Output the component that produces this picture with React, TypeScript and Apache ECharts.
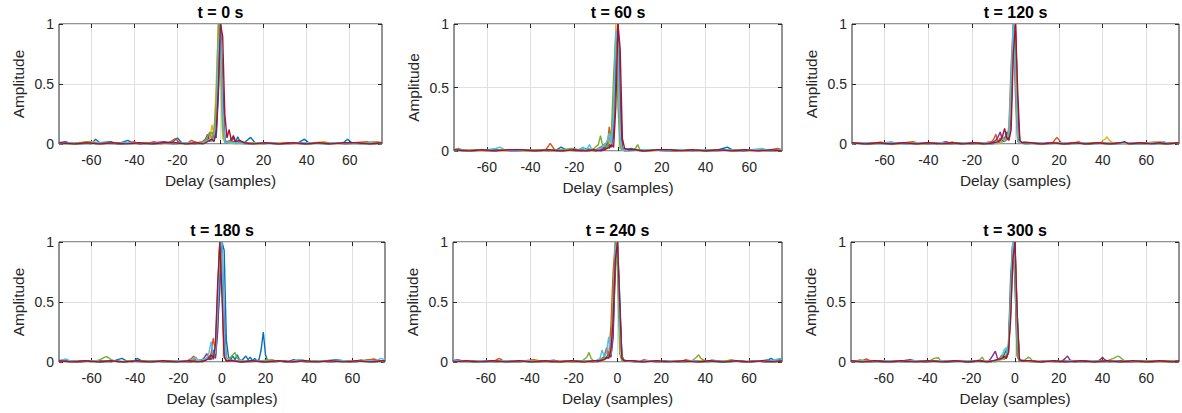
import React, { useEffect, useRef } from "react";
import * as echarts from "echarts";

type Pt = [number, number];

// ---------- data: t = 0 s ----------
const T0_1: Pt[] = [[-75,0.01],[-72,0.02],[-69,0],[-64,0.01],[-60,0],[-58,0.04],[-56,0.01],[-51,0.02],[-48,0],[-43,0.03],[-41,0.01],[-36,0.01],[-31,0],[-26,0.01],[-22,0.02],[-20,0.05],[-18,0.01],[-15,0],[-12,0.02],[-10,0],[-8,0.02],[-6,0.04],[-4,0.03],[-3,0.08],[-2,0.05],[-1,0.4],[0,1],[1,0.5],[2,0.03],[3,0.02],[5,0.03],[6,0.05],[7,0.01],[8,0.06],[9,0.02],[11,0.01],[14,0.055],[16,0.01],[20,0],[24,0.01],[28,0],[33,0.01],[36,0.01],[39,0.04],[41,0.01],[45,0.01],[50,0],[54,0.01],[57,0.01],[59,0.04],[61,0.01],[65,0],[70,0.01],[75,0.01]];
const T0_2: Pt[] = [[-75,0],[-70,0.01],[-67,0],[-62,0.02],[-60,0.01],[-55,0],[-50,0.01],[-46,0],[-40,0.02],[-38,0],[-33,0.01],[-31,0.02],[-28,0],[-24,0.01],[-21,0.045],[-19,0.01],[-16,0],[-13.5,0.03],[-11,0.01],[-8,0.02],[-6,0.05],[-4,0.1],[-3,0.04],[-2,0.25],[-1,0.75],[0,1],[1,0.4],[2,0.02],[3,0.01],[5,0.04],[6,0.01],[9,0.02],[12,0.01],[17,0],[22,0.01],[27,0.01],[32,0],[38,0.01],[44,0.01],[49,0],[55,0.01],[62,0.01],[68,0.02],[72,0],[75,0.01]];
const T0_3: Pt[] = [[-75,0.01],[-69,0],[-64,0.01],[-60,0.02],[-56,0.01],[-50,0],[-45,0.01],[-40,0.01],[-35,0],[-29,0.01],[-24,0],[-19,0.01],[-14,0],[-10,0.01],[-8,0.02],[-6,0.06],[-5,0.03],[-4,0.16],[-3,0.08],[-2,0.5],[-1,1],[0,0.6],[1,0.05],[2,0.02],[4,0.01],[7,0],[12,0.01],[18,0],[25,0.01],[31,0.01],[37,0],[43,0.01],[48,0.02],[53,0],[60,0.01],[66,0],[71,0.02],[75,0]];
const T0_4: Pt[] = [[-75,0],[-71,0.01],[-65,0],[-59,0.01],[-53,0.01],[-47,0],[-42,0.01],[-37,0],[-31,0.01],[-26,0.02],[-22,0],[-17,0.01],[-12,0],[-9,0.01],[-7,0.04],[-6,0.08],[-5,0.02],[-3,0.06],[-2,0.12],[-1,0.6],[0,1],[1,0.45],[2,0.02],[3,0.01],[6,0.02],[9,0.01],[13,0],[19,0.01],[26,0],[33,0.01],[39,0],[46,0.01],[52,0.01],[58,0],[64,0.01],[70,0],[75,0.01]];
const T0_5: Pt[] = [[-75,0.01],[-72,0],[-66,0.01],[-61,0.02],[-58,0],[-52,0.01],[-46,0.01],[-41,0],[-36,0.01],[-30,0],[-25,0.01],[-20,0],[-15,0.01],[-11,0],[-8,0.02],[-7,0.03],[-5,0.1],[-4,0.04],[-3,0.12],[-2,0.35],[-1,1],[0,0.85],[1,0.12],[2,0.01],[4,0.02],[7,0.01],[11,0],[16,0.01],[23,0.01],[29,0],[35,0.01],[42,0],[47,0.01],[55,0.01],[61,0],[67,0.01],[73,0.02],[75,0.01]];
const T0_6: Pt[] = [[-75,0],[-70,0.01],[-64,0],[-57,0.01],[-51,0],[-45,0.01],[-39,0.01],[-34,0],[-28,0.01],[-23,0],[-18,0.01],[-13,0.01],[-9,0],[-7,0.02],[-5,0.04],[-4,0.02],[-3,0.05],[-2,0.18],[-1,0.8],[0,1],[1,0.3],[2,0.02],[3,0.01],[8,0.01],[13,0],[18,0.01],[24,0.01],[30,0],[36,0.01],[41,0.01],[47,0],[53,0.01],[59,0.01],[65,0],[70,0.01],[75,0]];
const T0_7: Pt[] = [[-75,0.01],[-68,0],[-62,0.01],[-56,0],[-50,0.01],[-44,0],[-38,0.01],[-32,0],[-27,0.01],[-21,0.01],[-16,0],[-11,0.01],[-8,0],[-6,0.02],[-4,0.04],[-3,0.02],[-2,0.1],[-1,0.45],[0,1],[1,0.9],[2,0.25],[3,0.05],[4,0.12],[5,0.03],[6,0.07],[7,0.02],[9,0.03],[11,0.01],[15,0],[21,0.01],[27,0],[34,0.01],[40,0],[46,0.01],[51,0],[57,0.01],[63,0.01],[69,0],[75,0.01]];

// ---------- data: t = 60 s ----------
const T60_1: Pt[] = [[-75,0.01],[-71,0],[-66,0.01],[-61,0.01],[-57,0],[-52,0.01],[-47,0],[-42,0.01],[-37,0.01],[-32,0],[-28,0.01],[-26,0.03],[-24,0.01],[-19,0],[-15,0.02],[-12,0.01],[-10,0],[-8,0.02],[-6,0.03],[-5,0.06],[-4,0.02],[-3,0.05],[-2,0.12],[-1,0.6],[0,1],[1,0.45],[2,0.03],[3,0.01],[6,0.02],[9,0.01],[13,0],[17,0.01],[21,0.01],[26,0],[31,0.01],[36,0.01],[41,0],[46,0.01],[48,0.02],[50,0.03],[52,0.01],[57,0],[62,0.01],[67,0.01],[72,0],[75,0.01]];
const T60_2: Pt[] = [[-75,0],[-70,0.01],[-65,0.01],[-60,0],[-56,0.01],[-50,0.01],[-45,0],[-40,0.01],[-35,0],[-33,0.01],[-31,0.06],[-29,0.01],[-25,0],[-21,0.01],[-17,0.01],[-13,0],[-10,0.01],[-8,0.03],[-6,0.05],[-5,0.02],[-4,0.19],[-3,0.08],[-2,0.35],[-1,0.85],[0,1],[1,0.3],[2,0.02],[4,0.01],[8,0.01],[12,0],[16,0.01],[20,0.01],[25,0],[30,0.01],[35,0.01],[40,0],[44,0.01],[49,0.01],[54,0],[59,0.01],[65,0],[70,0.01],[73,0.02],[75,0.01]];
const T60_3: Pt[] = [[-75,0.01],[-69,0.01],[-63,0],[-58,0.01],[-52,0],[-46,0.01],[-41,0],[-36,0.01],[-30,0],[-24,0.01],[-18,0],[-14,0.01],[-11,0],[-8,0.01],[-6,0.02],[-4,0.04],[-3,0.1],[-2,0.25],[-1,1],[0,0.65],[1,0.03],[2,0.01],[5,0],[10,0.01],[15,0],[20,0.01],[26,0.01],[31,0],[37,0.01],[43,0],[49,0.01],[55,0.01],[61,0],[67,0.01],[75,0]];
const T60_4: Pt[] = [[-75,0],[-72,0.01],[-67,0],[-61,0.01],[-55,0.01],[-49,0],[-44,0.01],[-38,0],[-33,0.01],[-27,0],[-22,0.01],[-17,0],[-13,0.01],[-10,0],[-8,0.01],[-6,0.02],[-4,0.05],[-3,0.03],[-2,0.15],[-1,0.75],[0,1],[1,0.4],[2,0.02],[3,0],[7,0.01],[11,0],[16,0.01],[22,0],[28,0.01],[34,0],[39,0.01],[45,0],[51,0.01],[57,0],[63,0.01],[69,0],[75,0.01]];
const T60_5: Pt[] = [[-75,0.01],[-73,0.02],[-70,0],[-64,0.01],[-58,0],[-53,0.01],[-47,0.01],[-42,0],[-37,0.01],[-31,0],[-26,0.01],[-21,0.02],[-18,0.01],[-14,0],[-11,0.02],[-9,0.05],[-8,0.12],[-7,0.04],[-6,0.06],[-5,0.02],[-4,0.08],[-3,0.15],[-2,0.6],[-1,0.92],[0,0.35],[1,0.02],[3,0.01],[6,0.01],[8,0.02],[9,0.05],[10,0.01],[14,0],[19,0.01],[24,0],[30,0.01],[36,0],[42,0.01],[47,0.01],[53,0],[58,0.01],[64,0.01],[69,0],[75,0.01]];
const T60_6: Pt[] = [[-75,0],[-71,0.01],[-66,0],[-60,0.01],[-56,0.02],[-54,0.03],[-52,0.01],[-47,0],[-42,0.01],[-37,0],[-32,0.01],[-27,0],[-22,0.01],[-18,0.01],[-16,0.03],[-15,0.01],[-14,0.02],[-13,0.05],[-12,0.01],[-10,0.01],[-8,0.02],[-6,0.05],[-5,0.08],[-4,0.14],[-3,0.05],[-2,0.3],[-1,0.95],[0,0.85],[1,0.1],[2,0.01],[5,0],[10,0.01],[16,0.01],[22,0],[28,0.01],[33,0],[38,0.01],[44,0],[50,0.01],[56,0],[61,0.01],[66,0.02],[69,0],[75,0.01]];
const T60_7: Pt[] = [[-75,0.01],[-68,0],[-62,0.01],[-56,0],[-50,0.01],[-44,0.01],[-38,0],[-32,0.01],[-26,0],[-20,0.01],[-15,0],[-11,0.01],[-8,0],[-6,0.01],[-4,0.03],[-3,0.05],[-2,0.03],[-1,0.35],[0,1],[1,0.8],[2,0.1],[3,0.02],[5,0.01],[8,0.01],[12,0],[18,0.01],[24,0.01],[29,0],[34,0.01],[40,0],[46,0.01],[52,0],[58,0.01],[64,0],[70,0.01],[75,0]];

// ---------- data: t = 120 s ----------
const T120_1: Pt[] = [[-75,0.01],[-70,0],[-65,0.01],[-60,0],[-55,0.01],[-50,0],[-45,0.01],[-40,0],[-35,0.01],[-30,0],[-25,0.01],[-20,0],[-15,0.01],[-11,0],[-8,0.01],[-6,0.02],[-5,0.03],[-4,0.1],[-3,0.04],[-2,0.3],[-1,1],[0,0.8],[1,0.06],[2,0.01],[5,0],[9,0.01],[14,0],[19,0.01],[24,0],[29,0.01],[34,0],[39,0.01],[44,0],[49,0.01],[54,0],[59,0.01],[64,0],[69,0.01],[75,0.01]];
const T120_2: Pt[] = [[-75,0],[-71,0.01],[-66,0],[-61,0.01],[-56,0],[-51,0.01],[-47,0.02],[-45,0.01],[-40,0],[-35,0.01],[-29,0],[-24,0.01],[-19,0],[-14,0.01],[-11,0.02],[-10,0.04],[-9,0.08],[-8,0.02],[-7,0.05],[-6,0.03],[-5,0.06],[-4,0.03],[-3,0.15],[-2,0.65],[-1,1],[0,0.4],[1,0.02],[3,0.01],[8,0.01],[13,0],[17,0.01],[19,0.055],[21,0.01],[25,0],[29,0.02],[31,0],[36,0.01],[41,0],[46,0.01],[51,0],[56,0.01],[61,0.01],[65,0.02],[68,0],[73,0.01],[75,0]];
const T120_3: Pt[] = [[-75,0.01],[-68,0],[-64,0.01],[-62,0.02],[-60,0.01],[-55,0],[-49,0.01],[-43,0],[-38,0.01],[-32,0],[-29,0.02],[-27,0],[-22,0.01],[-17,0],[-12,0.01],[-8,0],[-6,0.02],[-4,0.05],[-3,0.08],[-2,0.45],[-1,0.95],[0,1],[1,0.25],[2,0.02],[4,0],[9,0.01],[15,0],[21,0.01],[27,0],[33,0.01],[38,0],[41,0.04],[42,0.06],[43,0.03],[45,0.01],[50,0],[55,0.01],[60,0],[64,0.02],[66,0.02],[69,0],[75,0.01]];
const T120_4: Pt[] = [[-75,0],[-72,0.01],[-67,0],[-62,0.01],[-57,0],[-52,0.01],[-46,0],[-41,0.01],[-36,0],[-32,0.02],[-30,0.01],[-25,0],[-20,0.01],[-15,0],[-11,0.01],[-9,0.03],[-8,0.06],[-7,0.1],[-6,0.03],[-5,0.02],[-4,0.06],[-3,0.05],[-2,0.25],[-1,0.9],[0,1],[1,0.3],[2,0.01],[5,0.01],[10,0],[16,0.01],[22,0],[28,0.01],[34,0],[40,0.01],[46,0],[52,0.01],[58,0],[63,0.01],[68,0],[75,0.01]];
const T120_5: Pt[] = [[-75,0.01],[-70,0.01],[-64,0],[-58,0.01],[-53,0],[-48,0.01],[-42,0],[-37,0.01],[-31,0],[-26,0.01],[-21,0],[-16,0.01],[-12,0],[-9,0.01],[-7,0.03],[-6,0.05],[-5,0.02],[-4,0.07],[-3,0.06],[-2,0.35],[-1,1],[0,0.85],[1,0.1],[2,0.01],[4,0.02],[7,0.01],[12,0],[18,0.01],[23,0],[28,0.01],[33,0],[38,0.01],[44,0],[50,0.01],[56,0],[62,0.01],[67,0],[72,0.01],[75,0]];
const T120_6: Pt[] = [[-75,0],[-69,0.01],[-63,0],[-57,0.02],[-55,0.01],[-50,0],[-44,0.01],[-39,0],[-34,0.01],[-28,0],[-23,0.01],[-18,0],[-13,0.01],[-10,0],[-8,0.02],[-6,0.04],[-5,0.03],[-4,0.05],[-3,0.1],[-2,0.55],[-1,1],[0,0.55],[1,0.03],[2,0.01],[6,0],[11,0.01],[16,0],[22,0.01],[27,0],[32,0.01],[37,0],[42,0.01],[48,0],[53,0.01],[58,0],[63,0.01],[68,0.02],[71,0],[75,0.01]];
const T120_7: Pt[] = [[-75,0.01],[-69,0],[-63,0.01],[-57,0],[-51,0.01],[-45,0],[-40,0.01],[-34,0],[-29,0.01],[-24,0],[-19,0.01],[-14,0],[-10,0.01],[-8,0.02],[-7,0.03],[-6,0.06],[-5,0.13],[-4,0.05],[-3,0.03],[-2,0.12],[-1,0.75],[0,1],[1,0.45],[2,0.03],[3,0.01],[7,0.01],[12,0],[17,0.01],[22,0],[27,0.01],[32,0],[38,0.01],[43,0],[48,0.01],[50,0.02],[52,0],[57,0.01],[62,0],[66,0.01],[70,0],[75,0.01]];

// ---------- data: t = 180 s ----------
const T180_1: Pt[] = [[-75,0.01],[-72,0.02],[-70,0.01],[-66,0],[-61,0.01],[-56,0.01],[-51,0],[-48,0.02],[-46,0.03],[-44,0.01],[-41,0],[-39,0.03],[-37,0.01],[-32,0],[-27,0.01],[-22,0],[-18,0.01],[-14,0],[-11,0.01],[-9,0],[-7,0.03],[-5,0.02],[-4,0.1],[-3,0.05],[-2,0.3],[-1,0.6],[0,1],[1,0.93],[2,0.18],[3,0.04],[4,0.02],[5,0.05],[6,0.02],[7,0.06],[8,0.02],[9,0.01],[11,0.05],[12,0.02],[13,0.04],[14,0.01],[15,0.03],[16,0.01],[17,0.02],[18,0.1],[19,0.25],[20,0.06],[21,0.01],[24,0],[28,0.01],[33,0],[38,0.01],[43,0],[48,0.01],[53,0.02],[55,0.01],[60,0],[65,0.01],[68,0.02],[70,0.01],[75,0]];
const T180_2: Pt[] = [[-75,0],[-70,0.01],[-65,0],[-60,0.01],[-55,0],[-50,0.01],[-45,0],[-40,0.01],[-35,0],[-30,0.01],[-25,0],[-20,0.01],[-16,0.01],[-14,0.03],[-13,0.05],[-12,0.01],[-10,0.01],[-8,0.02],[-6,0.04],[-5,0.07],[-4,0.2],[-3,0.08],[-2,0.55],[-1,1],[0,0.65],[1,0.06],[2,0.01],[4,0.02],[6,0.01],[10,0],[15,0.01],[20,0],[25,0.01],[30,0],[35,0.01],[40,0],[45,0.01],[50,0],[55,0.01],[60,0],[65,0.01],[68,0.02],[70,0.025],[72,0.01],[75,0]];
const T180_3: Pt[] = [[-75,0.01],[-69,0],[-63,0.01],[-57,0],[-51,0.01],[-45,0],[-39,0.01],[-33,0],[-27,0.01],[-21,0],[-16,0.01],[-12,0],[-9,0.01],[-7,0.02],[-5,0.04],[-4,0.03],[-3,0.12],[-2,0.6],[-1,1],[0,0.8],[1,0.12],[2,0.02],[4,0.01],[8,0],[13,0.01],[19,0],[25,0.01],[31,0],[37,0.01],[43,0],[49,0.01],[55,0],[61,0.01],[67,0],[73,0.01],[75,0]];
const T180_4: Pt[] = [[-75,0],[-71,0.01],[-66,0],[-61,0.01],[-56,0],[-51,0.01],[-46,0],[-41,0.01],[-36,0],[-31,0.01],[-26,0],[-21,0.01],[-16,0],[-12,0.01],[-9,0.02],[-8,0.04],[-7,0.07],[-6,0.02],[-4,0.05],[-3,0.03],[-2,0.25],[-1,0.85],[0,1],[1,0.35],[2,0.01],[5,0.01],[9,0],[14,0.01],[20,0],[26,0.01],[30,0],[33,0.02],[35,0.01],[40,0],[45,0.01],[50,0],[55,0.01],[60,0],[65,0.01],[70,0],[75,0.01]];
const T180_5: Pt[] = [[-75,0.01],[-70,0],[-65,0.01],[-60,0],[-56,0.02],[-54,0.04],[-53,0.045],[-51,0.02],[-48,0],[-43,0.01],[-38,0],[-33,0.01],[-28,0],[-23,0.01],[-18,0],[-13,0.02],[-11,0.01],[-8,0.01],[-6,0.03],[-5,0.05],[-4,0.02],[-3,0.1],[-2,0.5],[-1,1],[0,0.75],[1,0.06],[3,0.02],[5,0.06],[6,0.08],[7,0.03],[9,0.01],[13,0],[18,0.01],[23,0.02],[25,0.01],[30,0],[35,0.01],[40,0],[45,0.01],[50,0],[55,0.01],[60,0],[64,0.02],[66,0.01],[71,0],[75,0.01]];
const T180_6: Pt[] = [[-75,0.01],[-73,0.02],[-72,0.025],[-70,0.01],[-65,0],[-60,0.01],[-55,0],[-50,0.01],[-45,0],[-40,0.01],[-35,0],[-30,0.01],[-25,0],[-20,0.01],[-15,0.01],[-13,0.03],[-12,0.04],[-11,0.01],[-9,0.02],[-7,0.03],[-6,0.08],[-5,0.17],[-4,0.05],[-3,0.08],[-2,0.45],[-1,0.95],[0,1],[1,0.25],[2,0.02],[4,0.01],[8,0.01],[12,0],[17,0.01],[22,0],[27,0.01],[32,0],[35,0.02],[37,0.02],[40,0],[45,0.01],[50,0],[54,0.02],[56,0.01],[61,0],[66,0.01],[71,0.01],[73,0.03],[75,0.02]];
const T180_7: Pt[] = [[-75,0.01],[-69,0],[-63,0.01],[-57,0],[-51,0.01],[-45,0],[-39,0.01],[-33,0],[-27,0.01],[-21,0],[-15,0.01],[-11,0],[-8,0.01],[-6,0.03],[-5,0.06],[-4,0.03],[-3,0.15],[-2,0.65],[-1,1],[0,0.55],[1,0.04],[2,0.01],[5,0.01],[9,0],[14,0.01],[20,0],[26,0.01],[32,0],[38,0.01],[44,0],[50,0.01],[56,0],[62,0.01],[68,0],[74,0.01],[75,0.01]];

// ---------- data: t = 240 s ----------
const T240_1: Pt[] = [[-75,0.01],[-70,0],[-65,0.01],[-60,0],[-55,0.01],[-50,0],[-45,0.01],[-40,0],[-35,0.01],[-30,0],[-25,0.01],[-20,0],[-15,0.01],[-11,0],[-8,0.02],[-6,0.04],[-5,0.03],[-4,0.08],[-3,0.05],[-2,0.25],[-1,0.8],[0,1],[1,0.55],[2,0.05],[3,0.01],[6,0.01],[11,0],[16,0.01],[21,0],[26,0.01],[31,0],[36,0.01],[41,0],[46,0.01],[51,0],[56,0.01],[61,0],[66,0.01],[69,0.02],[70,0.03],[72,0.01],[74,0.02],[75,0.03]];
const T240_2: Pt[] = [[-75,0],[-71,0.01],[-66,0],[-61,0.01],[-56,0.01],[-54,0.03],[-52,0.01],[-47,0],[-42,0.01],[-38,0.02],[-36,0.01],[-31,0],[-26,0.01],[-21,0],[-16,0.01],[-12,0],[-9,0.01],[-7,0.03],[-6,0.05],[-5,0.12],[-4,0.05],[-3,0.3],[-2,0.75],[-1,1],[0,0.9],[1,0.45],[2,0.05],[3,0.01],[6,0.01],[10,0],[12,0.02],[14,0.01],[19,0],[24,0.01],[29,0],[31,0.02],[33,0.01],[38,0],[43,0.01],[48,0],[53,0.01],[58,0],[63,0.01],[68,0],[72,0.01],[75,0]];
const T240_3: Pt[] = [[-75,0.01],[-69,0],[-63,0.01],[-57,0],[-51,0.01],[-45,0],[-39,0.01],[-33,0],[-27,0.01],[-21,0],[-16,0.01],[-12,0],[-9,0.01],[-6,0.02],[-4,0.04],[-3,0.06],[-2,0.35],[-1,0.9],[0,1],[1,0.35],[2,0.02],[4,0.01],[9,0],[15,0.01],[21,0],[27,0.01],[33,0],[39,0.01],[45,0],[51,0.01],[57,0],[63,0.01],[69,0],[75,0.01]];
const T240_4: Pt[] = [[-75,0.01],[-73,0.02],[-71,0.01],[-66,0],[-61,0.01],[-56,0],[-51,0.01],[-46,0],[-41,0.01],[-36,0],[-31,0.01],[-29,0.015],[-26,0],[-21,0.01],[-16,0],[-12,0.01],[-9,0],[-7,0.02],[-5,0.03],[-4,0.06],[-3,0.04],[-2,0.2],[-1,0.8],[0,1],[1,0.4],[2,0.02],[4,0.01],[8,0],[13,0.01],[18,0],[23,0.01],[28,0],[33,0.01],[38,0],[43,0.01],[48,0],[53,0.01],[58,0],[63,0.01],[68,0],[75,0.01]];
const T240_5: Pt[] = [[-75,0],[-70,0.01],[-65,0],[-60,0.01],[-55,0],[-50,0.01],[-45,0],[-40,0.01],[-35,0],[-30,0.01],[-25,0],[-20,0.01],[-16,0.01],[-14,0.04],[-13,0.08],[-12,0.03],[-11,0.01],[-9,0.01],[-7,0.03],[-6,0.02],[-5,0.05],[-4,0.04],[-3,0.12],[-2,0.55],[-1,1],[0,0.75],[1,0.07],[2,0.01],[5,0.01],[10,0],[15,0.01],[20,0],[25,0.01],[30,0],[34,0.01],[36,0.04],[37,0.06],[38,0.03],[40,0.01],[45,0],[50,0.01],[52,0.02],[54,0.01],[59,0],[64,0.01],[69,0],[75,0.01]];
const T240_6: Pt[] = [[-75,0.02],[-72,0.01],[-67,0],[-62,0.01],[-57,0],[-52,0.01],[-47,0],[-42,0.01],[-37,0],[-32,0.01],[-27,0],[-22,0.01],[-17,0],[-13,0.01],[-10,0.01],[-8,0.03],[-7,0.1],[-6,0.04],[-5,0.08],[-4,0.21],[-3,0.06],[-2,0.4],[-1,0.95],[0,1],[1,0.3],[2,0.02],[4,0.01],[9,0],[14,0.01],[19,0],[24,0.01],[29,0],[34,0.01],[39,0],[42,0.01],[43,0.02],[45,0.01],[50,0],[55,0.01],[60,0],[65,0.01],[70,0.01],[72,0.02],[74,0.03],[75,0.02]];
const T240_7: Pt[] = [[-75,0],[-69,0.01],[-63,0],[-57,0.01],[-51,0],[-45,0.01],[-39,0],[-33,0.01],[-27,0],[-21,0.01],[-15,0],[-11,0.01],[-8,0.01],[-6,0.02],[-5,0.04],[-4,0.03],[-3,0.1],[-2,0.35],[-1,0.85],[0,1],[1,0.5],[2,0.03],[3,0.01],[7,0.01],[12,0],[18,0.01],[24,0],[30,0.01],[36,0],[42,0.01],[48,0],[54,0.01],[60,0],[66,0.01],[72,0],[75,0.01]];

// ---------- data: t = 300 s ----------
const T300_1: Pt[] = [[-75,0.01],[-70,0],[-65,0.01],[-60,0],[-55,0.01],[-50,0],[-45,0.01],[-40,0],[-35,0.01],[-30,0],[-25,0.01],[-20,0],[-15,0.01],[-11,0],[-8,0.02],[-6,0.04],[-5,0.06],[-4,0.1],[-3,0.13],[-2,0.7],[-1,1],[0,0.95],[1,0.4],[2,0.03],[3,0.01],[6,0.01],[11,0],[16,0.01],[21,0],[26,0.01],[31,0],[36,0.01],[41,0],[46,0.01],[51,0],[56,0.01],[61,0],[66,0.01],[71,0],[75,0.01]];
const T300_2: Pt[] = [[-75,0],[-70,0.01],[-68,0.025],[-66,0.01],[-61,0],[-56,0.01],[-51,0],[-46,0.01],[-41,0],[-36,0.01],[-31,0],[-26,0.01],[-21,0],[-16,0.01],[-12,0],[-9,0.01],[-7,0.03],[-6,0.06],[-5,0.03],[-4,0.05],[-3,0.1],[-2,0.4],[-1,0.9],[0,1],[1,0.35],[2,0.02],[4,0.01],[8,0],[13,0.01],[18,0],[23,0.01],[28,0],[33,0.01],[38,0],[43,0.01],[48,0],[53,0.01],[58,0],[63,0.01],[68,0],[73,0.01],[75,0]];
const T300_3: Pt[] = [[-75,0.01],[-69,0],[-63,0.01],[-57,0],[-51,0.01],[-45,0],[-39,0.01],[-33,0],[-27,0.01],[-21,0],[-16,0.01],[-12,0],[-9,0.01],[-6,0.02],[-4,0.04],[-3,0.08],[-2,0.45],[-1,1],[0,0.8],[1,0.12],[2,0.01],[5,0.01],[10,0],[16,0.01],[22,0],[28,0.01],[34,0],[40,0.01],[46,0],[52,0.01],[58,0],[64,0.01],[70,0],[75,0.01]];
const T300_4: Pt[] = [[-75,0],[-71,0.01],[-66,0],[-61,0.01],[-56,0],[-51,0.01],[-48,0.02],[-46,0.01],[-41,0],[-36,0.01],[-31,0],[-26,0.01],[-21,0],[-16,0.01],[-12,0.01],[-11,0.03],[-10,0.06],[-9,0.09],[-8,0.03],[-7,0.02],[-5,0.04],[-4,0.03],[-3,0.1],[-2,0.55],[-1,1],[0,0.65],[1,0.05],[2,0.01],[6,0.01],[11,0],[16,0.01],[21,0],[23,0.03],[24,0.05],[25,0.02],[27,0],[32,0.01],[37,0],[39,0.02],[40,0.04],[41,0.02],[43,0],[48,0.01],[53,0],[58,0.01],[63,0],[68,0.01],[75,0]];
const T300_5: Pt[] = [[-75,0.01],[-72,0.01],[-71,0.02],[-69,0.01],[-64,0],[-59,0.01],[-54,0],[-49,0.01],[-44,0],[-39,0.01],[-37,0.03],[-35,0.035],[-34,0.01],[-29,0],[-24,0.01],[-19,0],[-16,0.02],[-15,0.04],[-14,0.01],[-11,0.01],[-9,0],[-7,0.03],[-6,0.04],[-5,0.02],[-4,0.06],[-3,0.15],[-2,0.6],[-1,1],[0,0.7],[1,0.06],[2,0.01],[4,0.01],[6,0.04],[7,0.03],[8,0.01],[12,0],[17,0.01],[22,0],[27,0.01],[32,0],[37,0.01],[42,0.01],[45,0.03],[47,0.05],[48,0.04],[50,0.01],[55,0],[60,0.01],[65,0],[70,0.01],[75,0]];
const T300_6: Pt[] = [[-75,0],[-69,0.01],[-63,0],[-57,0.01],[-51,0],[-45,0.01],[-39,0],[-33,0.01],[-27,0],[-21,0.01],[-16,0],[-12,0.01],[-9,0.01],[-7,0.02],[-6,0.04],[-5,0.1],[-4,0.12],[-3,0.06],[-2,0.5],[-1,1],[0,0.85],[1,0.25],[2,0.02],[5,0.01],[10,0],[15,0.01],[20,0],[25,0.01],[30,0],[35,0.01],[40,0],[45,0.01],[50,0],[55,0.01],[60,0],[65,0.01],[70,0],[75,0.01]];
const T300_7: Pt[] = [[-75,0.01],[-70,0],[-64,0.01],[-58,0],[-52,0.01],[-46,0],[-40,0.01],[-34,0],[-28,0.01],[-22,0],[-17,0.01],[-13,0],[-10,0.01],[-8,0.02],[-6,0.03],[-5,0.05],[-4,0.03],[-3,0.08],[-2,0.35],[-1,0.85],[0,1],[1,0.4],[2,0.02],[3,0.01],[7,0.01],[12,0],[18,0.01],[24,0],[30,0.01],[36,0],[42,0.01],[48,0],[54,0.01],[60,0],[66,0.01],[72,0],[75,0.01]];

const TIMES = [0, 60, 120, 180, 240, 300];
const PANEL_LINES: Pt[][][] = [
  [T0_1, T0_2, T0_3, T0_4, T0_5, T0_6, T0_7],
  [T60_1, T60_2, T60_3, T60_4, T60_5, T60_6, T60_7],
  [T120_1, T120_2, T120_3, T120_4, T120_5, T120_6, T120_7],
  [T180_1, T180_2, T180_3, T180_4, T180_5, T180_6, T180_7],
  [T240_1, T240_2, T240_3, T240_4, T240_5, T240_6, T240_7],
  [T300_1, T300_2, T300_3, T300_4, T300_5, T300_6, T300_7],
];
const X_TICKS = [-60, -40, -20, 0, 20, 40, 60];
const X_MIN = -75;
const X_MAX = 75;
const Y_MIN = 0;
const Y_MAX = 1;
const Y_STEP = 0.5;
const X_NAME = "Delay (samples)";
const Y_NAME = "Amplitude";

const COLORS = ["#0072BD", "#D95319", "#EDB120", "#7E2F8E", "#77AC30", "#4DBEEE", "#A2142F"];

// plot-area layout (pixels)
const LAYOUT = [
  { left: 59, top: 24, width: 323, height: 120 },
  { left: 454, top: 24, width: 328, height: 127 },
  { left: 852, top: 24, width: 327, height: 120 },
  { left: 59, top: 242, width: 326, height: 120 },
  { left: 453, top: 242, width: 329, height: 120 },
  { left: 851, top: 242, width: 328, height: 120 },
];

const FONT = '"Liberation Sans", Arial, Helvetica, sans-serif';
const AXIS_COLOR = "#262626";
const GRID_COLOR = "#e0e0e0";

export default function App() {
  const ref = useRef<HTMLDivElement>(null);

  useEffect(() => {
    if (!ref.current) return;
    const chart = echarts.init(ref.current, null, { renderer: "svg" });

    const grid: any[] = [];
    const xAxis: any[] = [];
    const yAxis: any[] = [];
    const series: any[] = [];
    const graphic: any[] = [];

    LAYOUT.forEach((g, i) => {
      grid.push({
        left: g.left,
        top: g.top,
        width: g.width,
        height: g.height,
        show: true,
        borderColor: AXIS_COLOR,
        borderWidth: 1,
        backgroundColor: "#ffffff",
      });
      const tickStyle = { color: AXIS_COLOR, width: 1 };
      xAxis.push({
        type: "value",
        gridIndex: i,
        position: "bottom",
        min: X_MIN,
        max: X_MAX,
        axisLine: { show: false, onZero: false },
        axisTick: { show: true, inside: true, length: 4, customValues: X_TICKS, lineStyle: tickStyle },
        axisLabel: {
          show: true,
          customValues: X_TICKS,
          margin: 9,
          fontSize: 14,
          color: AXIS_COLOR,
          fontFamily: FONT,
        },
        splitLine: { show: true, lineStyle: { color: GRID_COLOR, width: 1 } },
        name: X_NAME,
        nameLocation: "middle",
        nameGap: 29,
        nameTextStyle: { fontSize: 15.4, color: AXIS_COLOR, fontFamily: FONT },
      });
      xAxis.push({
        type: "value",
        gridIndex: i,
        position: "top",
        min: X_MIN,
        max: X_MAX,
        axisLine: { show: false, onZero: false },
        axisTick: { show: true, inside: true, length: 4, customValues: X_TICKS, lineStyle: tickStyle },
        axisLabel: { show: false },
        splitLine: { show: false },
      });
      yAxis.push({
        type: "value",
        gridIndex: i,
        position: "left",
        min: Y_MIN,
        max: Y_MAX,
        interval: Y_STEP,
        axisLine: { show: false, onZero: false },
        axisTick: { show: true, inside: true, length: 4, lineStyle: tickStyle },
        axisLabel: { show: true, margin: 5, fontSize: 14, color: AXIS_COLOR, fontFamily: FONT },
        splitLine: { show: true, lineStyle: { color: GRID_COLOR, width: 1 } },
        name: Y_NAME,
        nameLocation: "middle",
        nameGap: 33,
        nameTextStyle: { fontSize: 15.4, color: AXIS_COLOR, fontFamily: FONT },
      });
      yAxis.push({
        type: "value",
        gridIndex: i,
        position: "right",
        min: Y_MIN,
        max: Y_MAX,
        interval: Y_STEP,
        axisLine: { show: false, onZero: false },
        axisTick: { show: true, inside: true, length: 4, lineStyle: tickStyle },
        axisLabel: { show: false },
        splitLine: { show: false },
      });

      PANEL_LINES[i].forEach((line, j) => {
        series.push({
          type: "line",
          xAxisIndex: 2 * i,
          yAxisIndex: 2 * i,
          data: line,
          symbol: "none",
          showSymbol: false,
          silent: true,
          clip: true,
          lineStyle: { width: 1.4, color: COLORS[j % COLORS.length] },
          itemStyle: { color: COLORS[j % COLORS.length] },
        });
      });

      graphic.push({
        type: "text",
        x: g.left + g.width / 2,
        y: g.top - 11.5,
        silent: true,
        style: {
          text: `t = ${TIMES[i]} s`,
          fill: "#000000",
          font: `bold 16px ${FONT}`,
          textAlign: "center",
          textVerticalAlign: "middle",
        },
      });
    });

    chart.setOption({
      animation: false,
      backgroundColor: "#ffffff",
      grid,
      xAxis,
      yAxis,
      series,
      graphic,
    });

    return () => {
      chart.dispose();
    };
  }, []);

  return (
    <div
      ref={ref}
      style={{ position: "absolute", left: 0, top: 0, width: 1182, height: 413, background: "#ffffff" }}
    />
  );
}
